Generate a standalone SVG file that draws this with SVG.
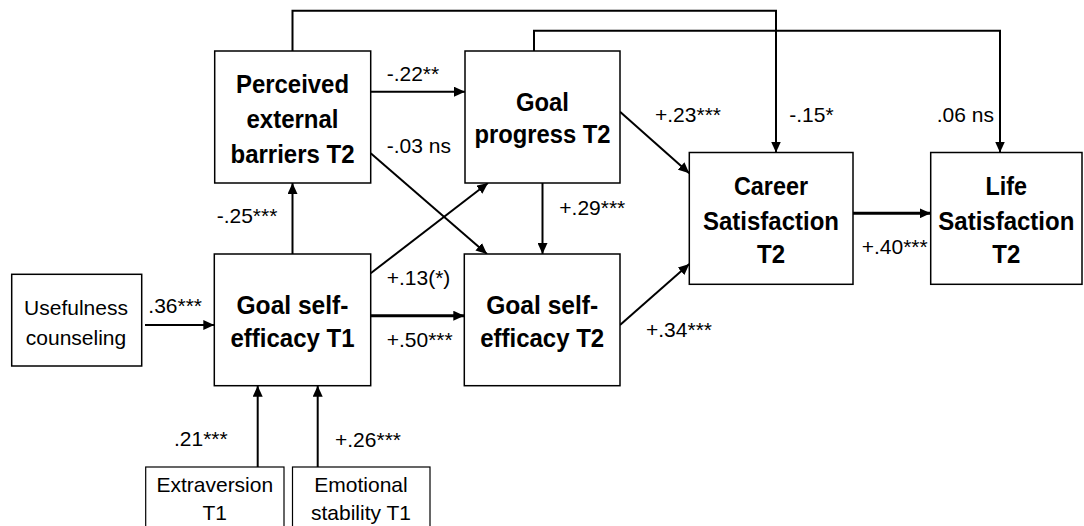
<svg xmlns="http://www.w3.org/2000/svg" width="1084" height="526" viewBox="0 0 1084 526">
<style>
.box{fill:#fff;stroke:#000;stroke-width:1.5}
.sbox{fill:#fff;stroke:#000;stroke-width:1.2}
.bt{font-family:"Liberation Sans",Arial,sans-serif;font-weight:bold;font-size:26px;text-anchor:middle;fill:#000}
.st{font-family:"Liberation Sans",Arial,sans-serif;font-size:21px;text-anchor:middle;fill:#000}
.lbl{font-family:"Liberation Sans",Arial,sans-serif;font-size:21px;fill:#000}
.c{fill:none;stroke:#000;stroke-width:2;marker-end:url(#ah)}
.ct{fill:none;stroke:#000;stroke-width:3;marker-end:url(#ah)}
</style>
<defs>
<marker id="ah" markerUnits="userSpaceOnUse" markerWidth="12" markerHeight="10" refX="11" refY="5" orient="auto">
<path d="M0,0 L11,5 L0,10 Z" fill="#000"/>
</marker>
</defs>
<rect width="1084" height="526" fill="#fff"/>
<g id="connectors">
<path class="c" d="M292.5,51 V10.7 H776 V152.5"/>
<path class="c" d="M534,51 V30.7 H1000 V152.5"/>
<path class="c" d="M370.7,91.7 H465"/>
<path class="c" d="M370.7,153.3 L487,254"/>
<path class="c" d="M370.7,273.3 L488,183"/>
<path class="c" d="M292.5,254 V183"/>
<path class="c" d="M542.5,183 V254"/>
<path class="ct" d="M370.7,315.7 H464.3"/>
<path class="c" d="M620,111.7 L689.3,173.3"/>
<path class="c" d="M620,325 L689.3,264"/>
<path class="ct" d="M853,213.3 H930.7"/>
<path class="c" d="M145,325 H214.3"/>
<path class="c" d="M257.7,467 V385.7"/>
<path class="c" d="M317.7,467 V385.7"/>
</g>
<g id="labels">
<text class="lbl" x="386.7" y="80.7">-.22**</text>
<text class="lbl" x="386.7" y="153.3">-.03 ns</text>
<text class="lbl" x="216.7" y="223.3">-.25***</text>
<text class="lbl" x="655" y="121.7">+.23***</text>
<text class="lbl" x="789.3" y="121.7">-.15*</text>
<text class="lbl" x="936.7" y="122">.06 ns</text>
<text class="lbl" x="559.3" y="215">+.29***</text>
<text class="lbl" x="861.7" y="254.3">+.40***</text>
<text class="lbl" x="148.3" y="312.7">.36***</text>
<text class="lbl" x="386.7" y="285">+.13(*)</text>
<text class="lbl" x="386.7" y="346.7">+.50***</text>
<text class="lbl" x="646" y="336.7">+.34***</text>
<text class="lbl" x="174" y="446">.21***</text>
<text class="lbl" x="335" y="446.5">+.26***</text>
</g>
<g id="perceived">
<rect class="box" x="214.7" y="51" width="156" height="132"/>
<text class="bt" x="292.5" y="93" textLength="113" lengthAdjust="spacingAndGlyphs">Perceived</text>
<text class="bt" x="292.5" y="128" textLength="92" lengthAdjust="spacingAndGlyphs">external</text>
<text class="bt" x="292.5" y="162.5" textLength="124" lengthAdjust="spacingAndGlyphs">barriers T2</text>
</g>
<g id="goalprogress">
<rect class="box" x="465" y="51" width="155" height="132"/>
<text class="bt" x="542.5" y="111" textLength="53" lengthAdjust="spacingAndGlyphs">Goal</text>
<text class="bt" x="542.5" y="143.3" textLength="136" lengthAdjust="spacingAndGlyphs">progress T2</text>
</g>
<g id="gse1">
<rect class="box" x="214.3" y="254" width="156.4" height="131.7"/>
<text class="bt" x="292.5" y="314" textLength="112" lengthAdjust="spacingAndGlyphs">Goal self-</text>
<text class="bt" x="292.5" y="347.3" textLength="124" lengthAdjust="spacingAndGlyphs">efficacy T1</text>
</g>
<g id="gse2">
<rect class="box" x="464.3" y="254" width="155.7" height="131.7"/>
<text class="bt" x="542.2" y="313.5" textLength="112" lengthAdjust="spacingAndGlyphs">Goal self-</text>
<text class="bt" x="542.2" y="347.3" textLength="124" lengthAdjust="spacingAndGlyphs">efficacy T2</text>
</g>
<g id="career">
<rect class="box" x="689.3" y="152.5" width="163.7" height="131.8"/>
<text class="bt" x="771" y="195" textLength="74" lengthAdjust="spacingAndGlyphs">Career</text>
<text class="bt" x="771" y="230" textLength="136" lengthAdjust="spacingAndGlyphs">Satisfaction</text>
<text class="bt" x="771" y="263.3" textLength="28" lengthAdjust="spacingAndGlyphs">T2</text>
</g>
<g id="life">
<rect class="box" x="930.7" y="152.5" width="151.3" height="131.8"/>
<text class="bt" x="1006.3" y="194.5" textLength="41.5" lengthAdjust="spacingAndGlyphs">Life</text>
<text class="bt" x="1006.3" y="229.5" textLength="136" lengthAdjust="spacingAndGlyphs">Satisfaction</text>
<text class="bt" x="1006.3" y="263.3" textLength="28" lengthAdjust="spacingAndGlyphs">T2</text>
</g>
<g id="usefulness">
<rect class="box" x="11.7" y="274.3" width="130" height="91.7"/>
<text class="st" x="76" y="315">Usefulness</text>
<text class="st" x="76" y="345">counseling</text>
</g>
<g id="extraversion">
<rect class="sbox" x="145.7" y="467" width="138.3" height="70"/>
<text class="st" x="214.8" y="491.7">Extraversion</text>
<text class="st" x="214.8" y="520">T1</text>
</g>
<g id="emotional">
<rect class="sbox" x="292.5" y="467" width="137.5" height="70"/>
<text class="st" x="361" y="491.7">Emotional</text>
<text class="st" x="361" y="520">stability T1</text>
</g>
</svg>
